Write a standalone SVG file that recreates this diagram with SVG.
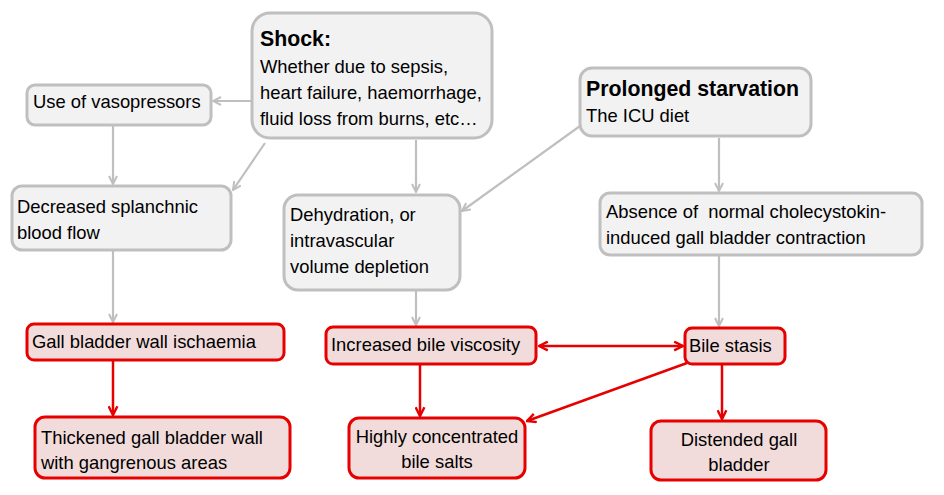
<svg xmlns="http://www.w3.org/2000/svg" width="944" height="495" viewBox="0 0 944 495">
<defs>
<marker id="ag" viewBox="0 0 10 10" refX="9" refY="5" markerWidth="10" markerHeight="10" markerUnits="userSpaceOnUse" orient="auto-start-reverse">
<path d="M1,1 L9,5 L1,9" fill="none" stroke="#bfbfbf" stroke-width="2"/>
</marker>
<marker id="ar" viewBox="0 0 10 10" refX="9" refY="5" markerWidth="11" markerHeight="11" markerUnits="userSpaceOnUse" orient="auto-start-reverse">
<path d="M1,1 L9,5 L1,9" fill="none" stroke="#e60000" stroke-width="2.2"/>
</marker>
</defs>
<style>
text{font-family:"Liberation Sans",Arial,sans-serif;font-size:18.4px;fill:#000;white-space:pre}
.b{font-weight:bold;font-size:21.3px}
.c{text-anchor:middle}
.g rect{fill:#f2f2f2;stroke:#bfbfbf;stroke-width:3}
.r rect{fill:#f2dcdb;stroke:#e60000;stroke-width:3}
.lg{stroke:#bfbfbf;stroke-width:2.2;fill:none;marker-end:url(#ag)}
.lr{stroke:#e60000;stroke-width:2.5;fill:none;marker-end:url(#ar)}
</style>
<rect width="944" height="495" fill="#fff"/>
<g id="connectors">
<line class="lg" x1="252" y1="101" x2="213" y2="101"/>
<line class="lg" x1="265" y1="143" x2="233" y2="190"/>
<line class="lg" x1="113" y1="126" x2="113" y2="184"/>
<line class="lg" x1="416" y1="140" x2="416" y2="192"/>
<line class="lg" x1="580" y1="126" x2="462" y2="211"/>
<line class="lg" x1="719" y1="138" x2="719" y2="191"/>
<line class="lg" x1="113" y1="251" x2="113" y2="322"/>
<line class="lg" x1="416" y1="291" x2="416" y2="325"/>
<line class="lg" x1="719" y1="256" x2="719" y2="326"/>
<line class="lr" x1="113" y1="361" x2="113" y2="415"/>
<line class="lr" x1="420" y1="365" x2="420" y2="416"/>
<line class="lr" x1="722" y1="365" x2="722" y2="419"/>
<line class="lr" x1="539" y1="346" x2="683" y2="346" style="marker-start:url(#ar)"/>
<line class="lr" x1="687" y1="363" x2="527" y2="421"/>
</g>
<g id="shock" class="g">
<rect x="252" y="13" width="240" height="125" rx="18"/>
<text x="260" y="46" class="b">Shock:</text>
<text x="260" y="73">Whether due to sepsis,</text>
<text x="260" y="99">heart failure, haemorrhage,</text>
<text x="260" y="125">fluid loss from burns, etc…</text>
</g>
<g id="vaso" class="g">
<rect x="27" y="85" width="184" height="40" rx="8"/>
<text x="33" y="108">Use of vasopressors</text>
</g>
<g id="splanchnic" class="g">
<rect x="12" y="186" width="219" height="64" rx="10"/>
<text x="17" y="213">Decreased splanchnic</text>
<text x="17" y="239">blood flow</text>
</g>
<g id="dehydration" class="g">
<rect x="284" y="195" width="176" height="95" rx="14"/>
<text x="290" y="221">Dehydration, or</text>
<text x="290" y="247">intravascular</text>
<text x="290" y="273">volume depletion</text>
</g>
<g id="starvation" class="g">
<rect x="580" y="68" width="231" height="68" rx="12"/>
<text x="586" y="96" class="b">Prolonged starvation</text>
<text x="586" y="122">The ICU diet</text>
</g>
<g id="absence" class="g">
<rect x="600" y="193" width="322" height="62" rx="10"/>
<text x="606" y="218">Absence of  normal cholecystokin-</text>
<text x="606" y="244">induced gall bladder contraction</text>
</g>
<g id="ischaemia" class="r">
<rect x="27" y="324" width="257" height="36" rx="7"/>
<text x="32" y="348">Gall bladder wall ischaemia</text>
</g>
<g id="thickened" class="r">
<rect x="35" y="417" width="255" height="61" rx="10"/>
<text x="41" y="444">Thickened gall bladder wall</text>
<text x="41" y="469">with gangrenous areas</text>
</g>
<g id="viscosity" class="r">
<rect x="326" y="327" width="210" height="37" rx="7"/>
<text x="331" y="351">Increased bile viscosity</text>
</g>
<g id="stasis" class="r">
<rect x="685" y="328" width="100" height="36" rx="7"/>
<text x="689" y="352">Bile stasis</text>
</g>
<g id="concentrated" class="r">
<rect x="349" y="418" width="176" height="60" rx="10"/>
<text x="437" y="443" class="c">Highly concentrated</text>
<text x="437" y="468" class="c">bile salts</text>
</g>
<g id="distended" class="r">
<rect x="651" y="421" width="175" height="59" rx="10"/>
<text x="739" y="446" class="c">Distended gall</text>
<text x="739" y="471" class="c">bladder</text>
</g>
</svg>
